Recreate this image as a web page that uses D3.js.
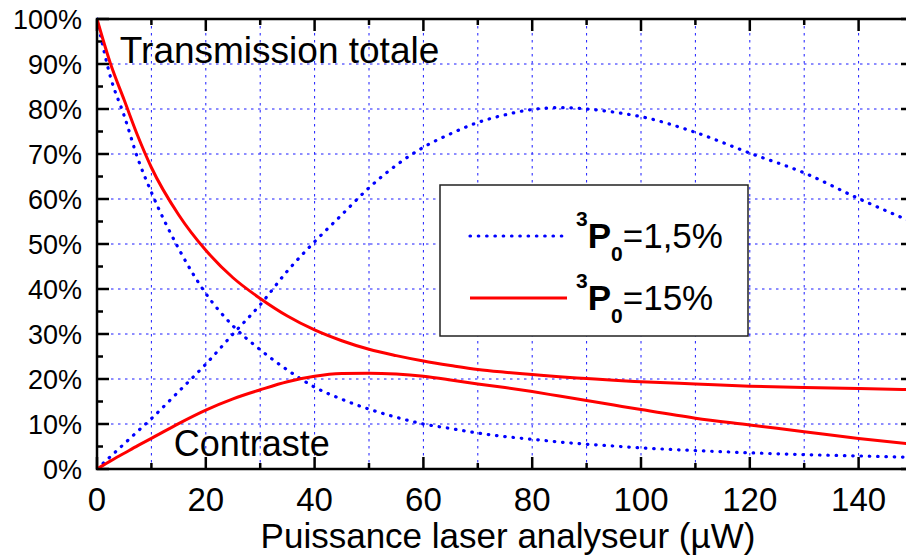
<!DOCTYPE html>
<html>
<head>
<meta charset="utf-8">
<script src="https://cdn.jsdelivr.net/npm/d3@7"></script>
<style>
  body { margin: 0; background: #fff; }
  text { font-family: "Liberation Sans", Arial, Helvetica, sans-serif; fill: #000; }
</style>
</head>
<body>
<div id="chart"></div>
<script>
(function () {
    // data (x in µW, y in %)
    var power = [0, 2.5, 5, 7.5, 10, 15, 20, 25, 30, 35, 40, 45, 50, 55, 60, 65, 70, 75, 80, 85, 90, 95, 100, 110, 120, 130, 140, 150];
    var transBlue = [100, 87, 78.5, 69, 61.5, 49, 39, 31.8, 26.5, 22, 18.2, 15.5, 13.3, 11.5, 10, 9, 8, 7.2, 6.6, 6, 5.5, 5.1, 4.7, 4.1, 3.6, 3.2, 2.9, 2.6];
    var contrBlue = [0, 2.8, 5.6, 8.4, 11.2, 17.2, 23.3, 30, 36.5, 44, 50.5, 56.5, 62.5, 67.5, 71.5, 74.5, 77, 78.7, 79.9, 80.3, 80, 79.3, 78.3, 74.8, 70.2, 65.8, 60.1, 54.8];
    var transRed = [100, 90, 82, 74, 67, 56.5, 48.6, 42.5, 37.9, 34, 30.9, 28.5, 26.6, 25.2, 24, 23, 22.1, 21.5, 21, 20.5, 20.1, 19.7, 19.4, 18.9, 18.4, 18.1, 17.9, 17.6];
    var contrRed = [0, 1.8, 3.5, 5.2, 6.8, 10.1, 13.1, 15.6, 17.6, 19.4, 20.6, 21.2, 21.3, 21.1, 20.6, 19.8, 18.9, 18.1, 17.2, 16.2, 15.2, 14.2, 13.2, 11.3, 9.8, 8.3, 6.8, 5.5];

    var xTicks = [0, 20, 40, 60, 80, 100, 120, 140];
    var yTicks = [0, 10, 20, 30, 40, 50, 60, 70, 80, 90, 100];
    var legendLabels = [["3", "0", "=1,5%"], ["3", "0", "=15%"]];

    var width = 906, height = 558;
    var margin = {left: 97, top: 19, right: 913, bottom: 469};

    var svg = d3.select("#chart").append("svg")
        .attr("width", width)
        .attr("height", height);

    svg.append("rect").attr("width", width).attr("height", height).attr("fill", "#fff");

    var x = d3.scaleLinear().domain([0, 150]).range([margin.left, margin.right]);
    var y = d3.scaleLinear().domain([0, 100]).range([margin.bottom, margin.top]);

    // grid
    var grid = svg.append("g")
        .attr("stroke", "#1a1aff")
        .attr("stroke-width", 1)
        .attr("stroke-dasharray", "2.5,4.5");
    grid.selectAll(".vg").data(d3.range(10, 150, 10)).enter().append("line")
        .attr("x1", d => x(d)).attr("x2", d => x(d))
        .attr("y1", margin.top).attr("y2", margin.bottom);
    grid.selectAll(".hg").data(d3.range(10, 100, 10)).enter().append("line")
        .attr("x1", margin.left).attr("x2", margin.right)
        .attr("y1", d => y(d)).attr("y2", d => y(d));

    // ticks, pointing inward, on all four sides
    var ticks = svg.append("g").attr("stroke", "#000").attr("stroke-width", 2.5);
    d3.range(0, 151, 10).forEach(function (v) {
        var len = v % 20 === 0 ? 12 : 6;
        ticks.append("line").attr("x1", x(v)).attr("x2", x(v)).attr("y1", margin.bottom).attr("y2", margin.bottom - len);
        ticks.append("line").attr("x1", x(v)).attr("x2", x(v)).attr("y1", margin.top).attr("y2", margin.top + len);
    });
    d3.range(0, 101, 5).forEach(function (v) {
        var len = v % 10 === 0 ? 12 : 6;
        ticks.append("line").attr("x1", margin.left).attr("x2", margin.left + len).attr("y1", y(v)).attr("y2", y(v));
        ticks.append("line").attr("x1", margin.right).attr("x2", margin.right - len).attr("y1", y(v)).attr("y2", y(v));
    });

    // curves
    svg.append("clipPath").attr("id", "plotclip")
        .append("rect").attr("x", margin.left).attr("y", margin.top - 2)
        .attr("width", margin.right - margin.left).attr("height", margin.bottom - margin.top + 2);

    function series(vals) {
        return power.map(function (p, i) { return [p, vals[i]]; });
    }
    var line = d3.line()
        .x(d => x(d[0]))
        .y(d => y(d[1]))
        .curve(d3.curveMonotoneX);

    var curves = svg.append("g").attr("clip-path", "url(#plotclip)").attr("fill", "none");
    [transBlue, contrBlue].forEach(function (s) {
        curves.append("path").attr("d", line(series(s)))
            .attr("stroke", "#0000ff").attr("stroke-width", 3.2)
            .attr("stroke-linecap", "round").attr("stroke-dasharray", "0.5,7.8");
    });
    [transRed, contrRed].forEach(function (s) {
        curves.append("path").attr("d", line(series(s)))
            .attr("stroke", "#ff0000").attr("stroke-width", 3);
    });

    // frame
    svg.append("rect")
        .attr("x", margin.left).attr("y", margin.top)
        .attr("width", margin.right - margin.left).attr("height", margin.bottom - margin.top)
        .attr("fill", "none").attr("stroke", "#000").attr("stroke-width", 2.5);

    // tick labels
    svg.selectAll(".xl").data(xTicks).enter().append("text")
        .attr("x", d => x(d)).attr("y", 511)
        .attr("text-anchor", "middle")
        .style("font-size", "33px")
        .text(d => d);
    svg.selectAll(".yl").data(yTicks).enter().append("text")
        .attr("x", 82).attr("y", d => y(d) + 9.5)
        .attr("text-anchor", "end")
        .style("font-size", "27px")
        .text(d => d + "%");

    svg.append("text")
        .attr("x", 508).attr("y", 548)
        .attr("text-anchor", "middle")
        .style("font-size", "35px")
        .text("Puissance laser analyseur (\u00b5W)");

    // annotations
    svg.append("text")
        .attr("x", x(4.2)).attr("y", y(90.2))
        .style("font-size", "37px")
        .text("Transmission totale");
    svg.append("text")
        .attr("x", x(14.1)).attr("y", y(2.9))
        .style("font-size", "36px")
        .text("Contraste");

    // legend
    var lg = svg.append("g");
    lg.append("rect").attr("x", 440).attr("y", 185).attr("width", 308).attr("height", 151)
        .attr("fill", "#fff").attr("stroke", "#222").attr("stroke-width", 1.5);
    var rows = [
        {y: 236, stroke: "#0000ff", dash: "0.5,7.8", w: 3.2, cap: "round"},
        {y: 298, stroke: "#ff0000", dash: null, w: 3, cap: "butt"}
    ];
    rows.forEach(function (r, i) {
        lg.append("line").attr("x1", 470).attr("x2", 567).attr("y1", r.y).attr("y2", r.y)
            .attr("stroke", r.stroke).attr("stroke-width", r.w)
            .attr("stroke-linecap", r.cap).attr("stroke-dasharray", r.dash);
        var t = lg.append("text").attr("x", 576).attr("y", r.y + 12);
        t.append("tspan").attr("dy", -22).style("font-size", "21px").style("font-weight", "bold").text(legendLabels[i][0]);
        t.append("tspan").attr("dy", 22).style("font-size", "35px").style("font-weight", "bold").text("P");
        t.append("tspan").attr("dy", 13).style("font-size", "21px").style("font-weight", "bold").text(legendLabels[i][1]);
        t.append("tspan").attr("dy", -13).style("font-size", "35px").text(legendLabels[i][2]);
    });
})();
</script>
</body>
</html>
